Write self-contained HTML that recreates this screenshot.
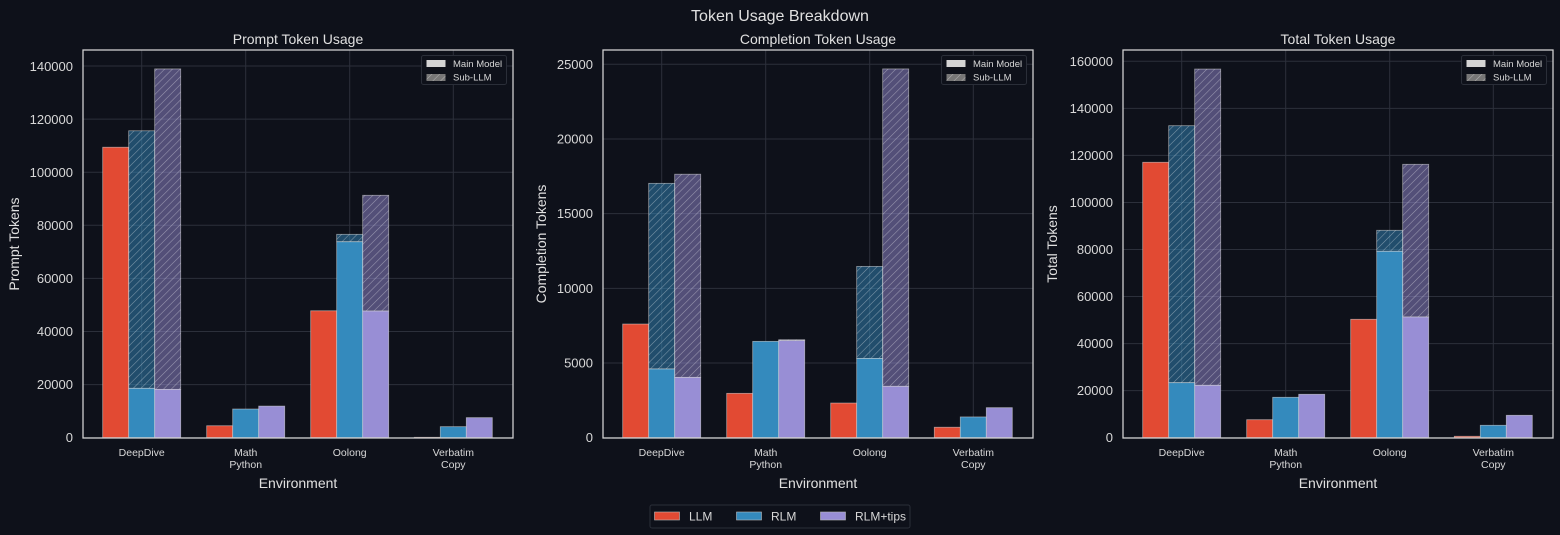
<!DOCTYPE html>
<html><head><meta charset="utf-8"><style>
html,body{margin:0;padding:0;background:#0e111a;}
svg{display:block;font-family:"Liberation Sans",sans-serif;}
</style></head><body>
<svg id="s" width="1560" height="535" xmlns="http://www.w3.org/2000/svg">
<defs>
<pattern id="h" patternUnits="userSpaceOnUse" width="5.5" height="5.5" patternTransform="rotate(45)">
<line x1="0" y1="0" x2="0" y2="5.5" stroke="rgba(255,255,255,0.42)" stroke-width="1.1"/>
</pattern>
</defs>
<rect width="1560" height="535" fill="#0e111a"/>
<g id="grid"></g>
<g id="bars"></g>
<g id="frames"></g>
<text x="780" y="21" fill="#e0e0e0" font-size="16" text-anchor="middle">Token Usage Breakdown</text>
<g fill="#e0e0e0" font-size="14" text-anchor="middle">
<text x="298" y="44">Prompt Token Usage</text>
<text x="818" y="44">Completion Token Usage</text>
<text x="1338" y="44">Total Token Usage</text>
<text x="298" y="488">Environment</text>
<text x="818" y="488">Environment</text>
<text x="1338" y="488">Environment</text>
<text transform="translate(19,244) rotate(-90)">Prompt Tokens</text>
<text transform="translate(546,244) rotate(-90)">Completion Tokens</text>
<text transform="translate(1057,244) rotate(-90)">Total Tokens</text>
</g>
<g fill="#d8d8d8" font-size="13" text-anchor="end">
<text x="73" y="442">0</text><text x="73" y="389">20000</text><text x="73" y="336">40000</text><text x="73" y="283">60000</text><text x="73" y="230">80000</text><text x="73" y="177">100000</text><text x="73" y="124">120000</text><text x="73" y="71">140000</text>
<text x="593" y="442">0</text><text x="593" y="367.5">5000</text><text x="593" y="293">10000</text><text x="593" y="218">15000</text><text x="593" y="143.5">20000</text><text x="593" y="69">25000</text>
<text x="1113" y="442">0</text><text x="1113" y="395">20000</text><text x="1113" y="348">40000</text><text x="1113" y="301">60000</text><text x="1113" y="254">80000</text><text x="1113" y="207">100000</text><text x="1113" y="160">120000</text><text x="1113" y="113">140000</text><text x="1113" y="66">160000</text>
</g>
<g fill="#d8d8d8" font-size="10.5" text-anchor="middle">
<text x="141.7" y="456">DeepDive</text><text x="245.7" y="456">Math</text><text x="245.7" y="468">Python</text><text x="349.7" y="456">Oolong</text><text x="453.3" y="456">Verbatim</text><text x="453.3" y="468">Copy</text>
<text x="661.7" y="456">DeepDive</text><text x="765.7" y="456">Math</text><text x="765.7" y="468">Python</text><text x="869.7" y="456">Oolong</text><text x="973.3" y="456">Verbatim</text><text x="973.3" y="468">Copy</text>
<text x="1181.7" y="456">DeepDive</text><text x="1285.7" y="456">Math</text><text x="1285.7" y="468">Python</text><text x="1389.7" y="456">Oolong</text><text x="1493.3" y="456">Verbatim</text><text x="1493.3" y="468">Copy</text>
</g>
<g id="legs"></g>
<g font-size="9.5" fill="#d8d8d8">
<text x="453" y="67">Main Model</text><text x="453" y="80.5">Sub-LLM</text>
<text x="973" y="67">Main Model</text><text x="973" y="80.5">Sub-LLM</text>
<text x="1493" y="67">Main Model</text><text x="1493" y="80.5">Sub-LLM</text>
</g>
<rect x="650" y="505" width="260" height="23" fill="#0e111a" stroke="#2a2e38" rx="2"/>
<rect x="654.5" y="512" width="25" height="8" fill="#e24a33" stroke="#bbb" stroke-width="0.6"/>
<rect x="736.5" y="512" width="25" height="8" fill="#348abd" stroke="#bbb" stroke-width="0.6"/>
<rect x="820.5" y="512" width="25" height="8" fill="#988ed5" stroke="#bbb" stroke-width="0.6"/>
<g font-size="12" fill="#d8d8d8"><text x="689" y="520.5">LLM</text><text x="771" y="520.5">RLM</text><text x="855" y="520.5">RLM+tips</text></g>
</svg>
<script>
var NS="http://www.w3.org/2000/svg";
function el(p,t,a){var e=document.createElementNS(NS,t);for(var k in a)e.setAttribute(k,a[k]);document.getElementById(p).appendChild(e);return e;}
var cols=["#e24a33","#348abd","#988ed5"];
var centers=[141.7,245.7,349.7,453.3];
var P=[
 {k:371.7/140000,ticks:[0,20000,40000,60000,80000,100000,120000,140000],
  d:[[[109400,109400],[18600,115600],[18200,138900]],[[4500,4500],[10800,10800],[11900,11900]],[[47800,47800],[73800,76600],[47700,91300]],[[150,150],[4150,4150],[7550,7550]]]},
 {k:373.4/25000,ticks:[0,5000,10000,15000,20000,25000],
  d:[[[7610,7610],[4600,17030],[4040,17640]],[[2970,2970],[6450,6450],[6500,6560]],[[2320,2320],[5310,11470],[3440,24690]],[[700,700],[1390,1390],[2010,2010]]]},
 {k:376.4/160000,ticks:[0,20000,40000,60000,80000,100000,120000,140000,160000],
  d:[[[117070,117070],[23380,132620],[22270,156700]],[[7650,7650],[17170,17170],[18450,18450]],[[50330,50330],[79230,88160],[51300,116210]],[[600,600],[5270,5270],[9520,9520]]]}
];
var B=437.7;
P.forEach(function(p,pi){
 var ox=pi*520;
 el("grid","rect",{x:ox+83,y:50,width:430,height:388,fill:"#0e111a"});
 p.ticks.forEach(function(t){var y=B-t*p.k;el("grid","line",{x1:ox+83,x2:ox+513,y1:y,y2:y,stroke:"#2c303b","stroke-width":1});});
 centers.forEach(function(c){el("grid","line",{x1:ox+c,x2:ox+c,y1:50,y2:438,stroke:"#2c303b","stroke-width":1});});
 p.d.forEach(function(g,gi){
  g.forEach(function(v,i){
   var x=ox+centers[gi]+(i-1)*26-13;
   var ym=B-v[0]*p.k, yt=B-v[1]*p.k;
   if(v[1]>v[0]+1){
    el("bars","rect",{x:x,y:yt,width:26,height:ym-yt,fill:cols[i],"fill-opacity":0.5,stroke:"rgba(220,220,220,0.6)","stroke-width":0.8});
    el("bars","rect",{x:x,y:yt,width:26,height:ym-yt,fill:"url(#h)"});
   }
   el("bars","rect",{x:x,y:ym,width:26,height:B-ym,fill:cols[i],stroke:"rgba(220,220,220,0.6)","stroke-width":0.8});
  });
 });
 el("frames","rect",{x:ox+83,y:50,width:430,height:388,fill:"none",stroke:"#cfcfcf","stroke-width":1.3});
 el("legs","rect",{x:ox+421.5,y:55.5,width:85,height:29,fill:"#0e111a",stroke:"#2a2e38",rx:2});
 el("legs","rect",{x:ox+426.5,y:60,width:19,height:7,fill:"#d4d4d4"});
 el("legs","rect",{x:ox+426.5,y:74,width:19,height:7,fill:"#777"});
 el("legs","rect",{x:ox+426.5,y:74,width:19,height:7,fill:"url(#h)"});
});
</script>
</body></html>
